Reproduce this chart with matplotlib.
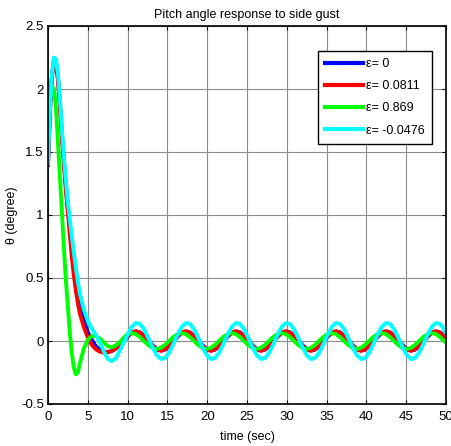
import matplotlib
matplotlib.use('Agg')
import matplotlib.pyplot as plt

# ---------------- data ----------------
time_early = [0.0, 0.25, 0.5, 0.75, 1.0, 1.25, 1.5, 1.75, 2.0, 2.25, 2.5, 2.75,
              3.0, 3.25, 3.5, 3.75, 4.0, 4.5, 5.0, 5.5, 6.0, 6.5, 7.0, 7.5,
              8.0, 8.5, 9.0, 9.5]
time_late = [10.00, 10.52, 11.05, 11.57, 12.09, 12.62, 13.14, 13.67, 14.19, 14.71, 15.24, 15.76,
             16.28, 16.81, 17.33, 17.85, 18.38, 18.90, 19.42, 19.95, 20.47, 21.00, 21.52, 22.04,
             22.57, 23.09, 23.61, 24.14, 24.66, 25.18, 25.71, 26.23, 26.76, 27.28, 27.80, 28.33,
             28.85, 29.37, 29.90, 30.42, 30.94, 31.47, 31.99, 32.51, 33.04, 33.56, 34.09, 34.61,
             35.13, 35.66, 36.18, 36.70, 37.23, 37.75, 38.27, 38.80, 39.32, 39.85, 40.37, 40.89,
             41.42, 41.94, 42.46, 42.99, 43.51, 44.03, 44.56, 45.08, 45.60, 46.13, 46.65, 47.18,
             47.70, 48.22, 48.75, 49.27, 49.79, 50.32]

# eps = 0 (blue)
theta_e0_early = [1.40, 1.84, 2.11, 2.23, 2.21, 2.09, 1.88, 1.64, 1.42, 1.22, 1.05, 0.89,
                  0.73, 0.59, 0.46, 0.36, 0.28, 0.16, 0.07, 0.01, -0.04, -0.07, -0.085, -0.088,
                  -0.08, -0.06, -0.035, 0.0]
theta_e0_late = [0.035, 0.064, 0.076, 0.068, 0.041, 0.004, -0.035, -0.064, -0.076, -0.068, -0.041, -0.004,
                 0.035, 0.064, 0.076, 0.068, 0.041, 0.004, -0.035, -0.064, -0.076, -0.068, -0.041, -0.004,
                 0.035, 0.064, 0.076, 0.068, 0.041, 0.004, -0.035, -0.064, -0.076, -0.068, -0.041, -0.004,
                 0.035, 0.064, 0.076, 0.068, 0.041, 0.004, -0.035, -0.064, -0.076, -0.068, -0.041, -0.004,
                 0.035, 0.064, 0.076, 0.068, 0.041, 0.004, -0.035, -0.064, -0.076, -0.068, -0.041, -0.004,
                 0.035, 0.064, 0.076, 0.068, 0.041, 0.004, -0.035, -0.064, -0.076, -0.068, -0.041, -0.004,
                 0.035, 0.064, 0.076, 0.068, 0.041, 0.004]

# eps = 0.0811 (red)
theta_e1_early = [1.40, 1.84, 2.10, 2.22, 2.20, 2.07, 1.86, 1.62, 1.40, 1.20, 1.02, 0.84,
                  0.66, 0.52, 0.40, 0.30, 0.22, 0.11, 0.03, -0.03, -0.065, -0.085, -0.092, -0.09,
                  -0.08, -0.06, -0.03, 0.005]
theta_e1_late = [0.042, 0.069, 0.078, 0.066, 0.036, -0.004, -0.042, -0.069, -0.078, -0.066, -0.036, 0.004,
                 0.042, 0.069, 0.078, 0.066, 0.036, -0.004, -0.042, -0.069, -0.078, -0.066, -0.036, 0.004,
                 0.042, 0.069, 0.078, 0.066, 0.036, -0.004, -0.042, -0.069, -0.078, -0.066, -0.036, 0.004,
                 0.042, 0.069, 0.078, 0.066, 0.036, -0.004, -0.042, -0.069, -0.078, -0.066, -0.036, 0.004,
                 0.042, 0.069, 0.078, 0.066, 0.036, -0.004, -0.042, -0.069, -0.078, -0.066, -0.036, 0.004,
                 0.042, 0.069, 0.078, 0.066, 0.036, -0.004, -0.042, -0.069, -0.078, -0.066, -0.036, 0.004,
                 0.042, 0.069, 0.078, 0.066, 0.036, -0.004]

# eps = 0.869 (green)
theta_e2_early = [1.75, 1.92, 2.02, 2.00, 1.85, 1.58, 1.30, 1.02, 0.74, 0.48, 0.27, 0.06,
                  -0.10, -0.21, -0.265, -0.25, -0.18, -0.06, 0.01, 0.04, 0.04, 0.02, -0.01, -0.04,
                  -0.05, -0.035, -0.01, 0.025]
theta_e2_late = [0.055, 0.063, 0.054, 0.030, -0.002, -0.033, -0.055, -0.063, -0.054, -0.030, 0.002, 0.033,
                 0.055, 0.063, 0.054, 0.030, -0.002, -0.033, -0.055, -0.063, -0.054, -0.030, 0.002, 0.033,
                 0.055, 0.063, 0.054, 0.030, -0.002, -0.033, -0.055, -0.063, -0.054, -0.030, 0.002, 0.033,
                 0.055, 0.063, 0.054, 0.030, -0.002, -0.033, -0.055, -0.063, -0.054, -0.030, 0.002, 0.033,
                 0.055, 0.063, 0.054, 0.030, -0.002, -0.033, -0.055, -0.063, -0.054, -0.030, 0.002, 0.033,
                 0.055, 0.063, 0.054, 0.030, -0.002, -0.033, -0.055, -0.063, -0.054, -0.030, 0.002, 0.033,
                 0.055, 0.063, 0.054, 0.030, -0.002, -0.033]

# eps = -0.0476 (cyan)
theta_e3_early = [1.41, 1.85, 2.12, 2.25, 2.24, 2.12, 1.92, 1.68, 1.46, 1.27, 1.10, 0.96,
                  0.83, 0.70, 0.58, 0.47, 0.38, 0.25, 0.16, 0.10, 0.05, -0.01, -0.08, -0.14,
                  -0.16, -0.14, -0.08, -0.015]
theta_e3_late = [0.052, 0.113, 0.143, 0.135, 0.091, 0.022, -0.052, -0.113, -0.143, -0.135, -0.091, -0.022,
                 0.052, 0.113, 0.143, 0.135, 0.091, 0.022, -0.052, -0.113, -0.143, -0.135, -0.091, -0.022,
                 0.052, 0.113, 0.143, 0.135, 0.091, 0.022, -0.052, -0.113, -0.143, -0.135, -0.091, -0.022,
                 0.052, 0.113, 0.143, 0.135, 0.091, 0.022, -0.052, -0.113, -0.143, -0.135, -0.091, -0.022,
                 0.052, 0.113, 0.143, 0.135, 0.091, 0.022, -0.052, -0.113, -0.143, -0.135, -0.091, -0.022,
                 0.052, 0.113, 0.143, 0.135, 0.091, 0.022, -0.052, -0.113, -0.143, -0.135, -0.091, -0.022,
                 0.052, 0.113, 0.143, 0.135, 0.091, 0.022]

series_labels = ['ε= 0', 'ε= 0.0811', 'ε= 0.869', 'ε= -0.0476']
series_colors = ['#0000ff', '#ff0000', '#00ff00', '#00ffff']

x_ticks = [0, 5, 10, 15, 20, 25, 30, 35, 40, 45, 50]
y_ticks = [-0.5, 0, 0.5, 1, 1.5, 2, 2.5]
y_tick_labels = ['-0.5', '0', '0.5', '1', '1.5', '2', '2.5']

# ---------------- plot ----------------
plt.rcParams['font.family'] = ['Liberation Sans', 'DejaVu Sans']

fig = plt.figure(figsize=(4.52, 4.46), dpi=100)
ax = fig.add_axes([48 / 452, 1 - 404 / 446, (446 - 48) / 452, (404 - 26) / 446])

time = time_early + time_late
series = [theta_e0_early + theta_e0_late,
          theta_e1_early + theta_e1_late,
          theta_e2_early + theta_e2_late,
          theta_e3_early + theta_e3_late]

for ys, lab, col in zip(series, series_labels, series_colors):
    ax.plot(time, ys, color=col, lw=2.8, label=lab, solid_joinstyle='round')

ax.set_xlim(0, 50)
ax.set_ylim(-0.5, 2.5)
ax.set_xticks(x_ticks)
ax.set_xticklabels([str(v) for v in x_ticks])
ax.set_yticks(y_ticks)
ax.set_yticklabels(y_tick_labels)
ax.grid(True, color='#8c8c8c', lw=0.8, ls='-')
ax.set_axisbelow(True)
ax.tick_params(direction='in', top=True, right=True, length=3, labelsize=9.5,
               width=0.8)
ax.tick_params(axis='x', pad=5)
ax.tick_params(axis='y', pad=3)
for s in ax.spines.values():
    s.set_linewidth(1.2)

ax.set_title('Pitch angle response to side gust', fontsize=9, pad=6)
ax.set_xlabel('time (sec)', fontsize=9, labelpad=6)
ax.set_ylabel('θ (degree)', fontsize=9, labelpad=2)

leg = ax.legend(loc='upper right', bbox_to_anchor=(432 / 452, 1 - 51 / 446),
                bbox_transform=fig.transFigure, fontsize=9, frameon=True,
                fancybox=False, framealpha=1, edgecolor='black', handlelength=3.0,
                handletextpad=0.3, labelspacing=0.82, borderpad=0.55, borderaxespad=0)
leg.get_frame().set_linewidth(1.0)
for line in leg.get_lines():
    line.set_linewidth(3)

fig.savefig('out.png', dpi=100)
